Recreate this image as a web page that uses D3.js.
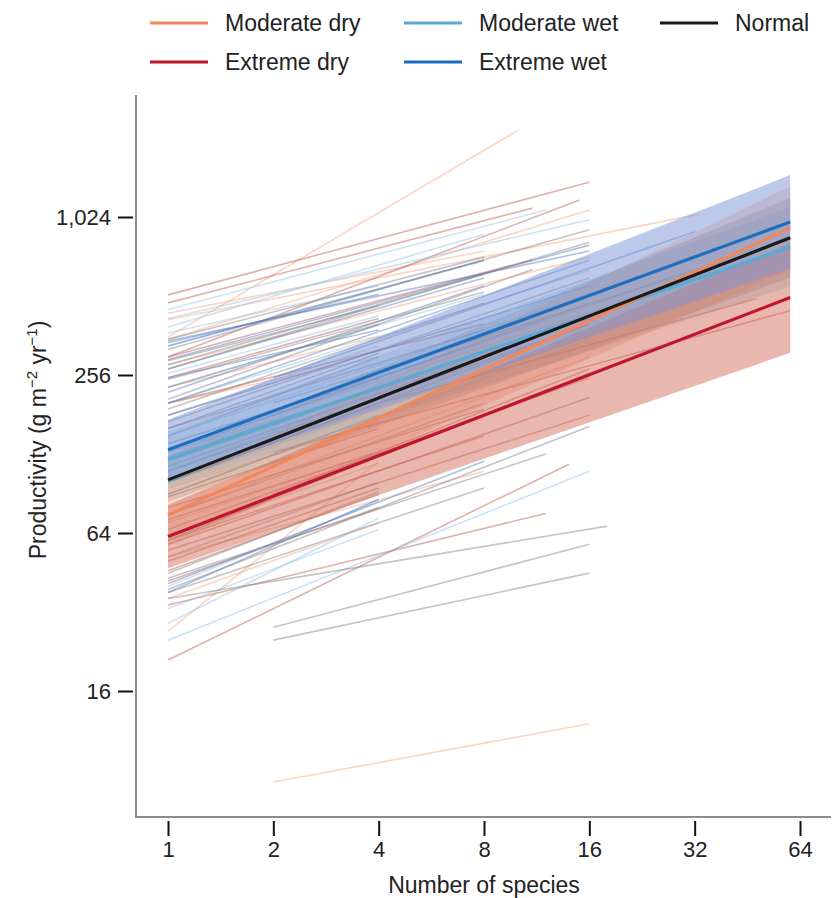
<!DOCTYPE html>
<style>
    body { margin: 0; background: #fff; }
    svg text { font-family: "Liberation Sans", Arial, sans-serif; fill: #222; }
</style>
<svg width="834" height="898"></svg>
<script src="https://d3js.org/d3.v7.min.js"></script>
<script>
    // tick labels
    var xTicks = [1, 2, 4, 8, 16, 32, 64];
    var yTicks = [16, 64, 256, 1024];

    // categories, in legend order
    var categories = ["Moderate dry", "Extreme dry", "Moderate wet", "Extreme wet", "Normal"];

    // fitted lines: species at start / end, productivity at start / end
    var fitSpecies = [1, 60];
    var fitStart = [75, 62, 122, 133, 102];
    var fitEnd   = [930, 505, 787, 980, 853];

    // confidence bands (low / high at start and end)
    var bandLowStart  = [57, 47, 96, 102, 84];
    var bandHighStart = [98, 82, 156, 173, 127];
    var bandLowEnd    = [646, 311, 555, 650, 601];
    var bandHighEnd   = [1337, 816, 1116, 1479, 1210];

    // individual experiments: [species start, productivity start, species end, productivity end]
    var moderateDryLines = [
        [1, 357, 10, 2190], [1, 416, 33, 1050], [1, 350, 16, 1088], [2, 7.2, 16, 12],
        [1, 27, 4, 120], [1, 36, 4, 70], [1, 70, 8, 180], [1, 95, 4, 170],
        [1, 120, 16, 420], [1, 62, 4, 118], [1, 180, 8, 420], [1, 230, 4, 360],
        [1, 75, 16, 300], [1, 52, 8, 110], [1, 280, 16, 720], [1, 130, 8, 300],
        [1, 100, 16, 360], [1, 200, 4, 300], [2, 180, 32, 600], [1, 440, 8, 760]
    ];
    var extremeDryLines = [
        [1, 517, 16, 1390], [1, 482, 11, 1107], [1, 300, 15, 1189], [1, 21, 14, 117],
        [1, 34, 12, 76], [1, 300, 11, 704], [1, 200, 8, 400], [1, 88, 4, 160],
        [1, 72, 4, 130], [1, 60, 8, 150], [1, 55, 16, 180], [1, 50, 4, 95],
        [1, 66, 16, 250], [1, 80, 8, 190], [1, 46, 4, 90], [1, 110, 16, 400],
        [1, 140, 4, 250], [1, 160, 8, 380], [2, 90, 16, 270], [1, 250, 4, 420],
        [1, 58, 16, 210], [1, 42, 4, 80], [4, 200, 48, 500], [2, 130, 60, 450]
    ];
    var moderateWetLines = [
        [1, 455, 12, 1088], [1, 390, 8, 880], [1, 25, 16, 110], [1, 29, 4, 73],
        [1, 33, 4, 66], [1, 40, 4, 85], [1, 370, 4, 560], [1, 330, 8, 700],
        [1, 200, 16, 640], [1, 180, 4, 330], [1, 140, 8, 340], [1, 110, 4, 220],
        [1, 90, 16, 350], [1, 260, 4, 430], [1, 230, 8, 520], [1, 150, 16, 520],
        [1, 60, 4, 130], [1, 420, 16, 1000], [4, 250, 48, 780]
    ];
    var extremeWetLines = [
        [1, 293, 16, 800], [1, 330, 8, 700], [1, 340, 4, 520], [1, 345, 16, 760],
        [1, 220, 8, 560], [1, 160, 4, 310], [1, 130, 16, 480], [1, 180, 16, 560],
        [1, 100, 4, 200], [1, 38, 4, 86], [1, 41, 8, 120], [1, 250, 4, 380],
        [1, 270, 8, 600], [1, 200, 16, 700], [2, 250, 32, 900]
    ];
    var normalLines = [
        [2, 28, 16, 58], [2, 25, 16, 45], [1, 36, 18, 68], [1, 39, 16, 163],
        [1, 43, 12, 128], [1, 320, 16, 916], [1, 246, 8, 530], [1, 207, 11, 646],
        [1, 290, 4, 470], [1, 280, 8, 620], [1, 270, 16, 820], [1, 230, 4, 400],
        [1, 190, 8, 480], [1, 170, 16, 600], [1, 150, 4, 300], [1, 115, 8, 300],
        [1, 100, 16, 400], [1, 90, 4, 180], [1, 75, 8, 200], [1, 60, 16, 260],
        [1, 52, 4, 100], [1, 45, 4, 92], [1, 125, 4, 230], [1, 350, 8, 720],
        [1, 38, 8, 95], [2, 200, 40, 700]
    ];

    var mainColors = ["#f4875a", "#c0152f", "#5aaad6", "#1d6fbe", "#1a1a1a"];
    var bgColors   = ["#f3a47f", "#b5524a", "#8fc3e3", "#4f73bd", "#7f7f7f"];
    var bandColors = ["#f08a60", "#d46f5c", "#6aaed6", "#7b93d6", "#777777"];
    var bandOpacity = [0.3, 0.5, 0.3, 0.5, 0.3];

    var svg = d3.select("svg");

    var x = d3.scaleLog().base(2).domain([1, 64]).range([168, 800]);
    var y = d3.scaleLog().base(2).domain([16, 1024]).range([691, 217]);

    var bgSets = [moderateDryLines, extremeDryLines, moderateWetLines, extremeWetLines, normalLines];

    // background lines
    var bg = svg.append("g");
    bgSets.forEach(function(set, i) {
        bg.selectAll(null)
            .data(set)
            .enter().append("line")
            .attr("x1", function(d) { return x(d[0]); })
            .attr("y1", function(d) { return y(d[1]); })
            .attr("x2", function(d) { return x(d[2]); })
            .attr("y2", function(d) { return y(d[3]); })
            .attr("stroke", bgColors[i])
            .attr("stroke-opacity", 0.45)
            .attr("stroke-width", 1.6);
    });

    // confidence bands
    var bandDraw = [4, 2, 0, 1, 3];
    bandDraw.forEach(function(i) {
        var pts = [
            [x(fitSpecies[0]), y(bandHighStart[i])],
            [x(fitSpecies[1]), y(bandHighEnd[i])],
            [x(fitSpecies[1]), y(bandLowEnd[i])],
            [x(fitSpecies[0]), y(bandLowStart[i])]
        ];
        svg.append("path")
            .attr("d", d3.line()(pts) + "Z")
            .attr("fill", bandColors[i])
            .attr("fill-opacity", bandOpacity[i]);
    });

    // fitted lines
    var lineDraw = [1, 2, 0, 4, 3];
    lineDraw.forEach(function(i) {
        svg.append("line")
            .attr("x1", x(fitSpecies[0])).attr("y1", y(fitStart[i]))
            .attr("x2", x(fitSpecies[1])).attr("y2", y(fitEnd[i]))
            .attr("stroke", mainColors[i])
            .attr("stroke-width", 3.2);
    });

    // axes lines
    svg.append("line").attr("x1", 136).attr("x2", 136).attr("y1", 95).attr("y2", 818)
        .attr("stroke", "#8c8c8c").attr("stroke-width", 2);
    svg.append("line").attr("x1", 135).attr("x2", 831).attr("y1", 817).attr("y2", 817)
        .attr("stroke", "#8c8c8c").attr("stroke-width", 2);

    var gx = svg.append("g")
        .attr("transform", "translate(0,821)")
        .call(d3.axisBottom(x).tickValues(xTicks).tickFormat(d3.format("d")).tickSize(15).tickPadding(5));
    var gy = svg.append("g")
        .attr("transform", "translate(133,0)")
        .call(d3.axisLeft(y).tickValues(yTicks).tickFormat(d3.format(",")).tickSize(15).tickPadding(7));
    [gx, gy].forEach(function(g) {
        g.select(".domain").remove();
        g.selectAll(".tick line").attr("stroke", "#111").attr("stroke-width", 2);
        g.selectAll(".tick text").attr("font-size", 22).attr("fill", "#222")
            .attr("font-family", "Liberation Sans, Arial, sans-serif");
    });

    // axis titles
    svg.append("text")
        .attr("x", 484).attr("y", 893)
        .attr("text-anchor", "middle")
        .attr("font-size", 23)
        .text("Number of species");

    var yt = svg.append("text")
        .attr("transform", "translate(46,440) rotate(-90)")
        .attr("text-anchor", "middle")
        .attr("font-size", 23);
    yt.append("tspan").text("Productivity (g m");
    yt.append("tspan").attr("dy", -9).attr("font-size", 15).text("\u22122");
    yt.append("tspan").attr("dy", 9).text(" yr");
    yt.append("tspan").attr("dy", -9).attr("font-size", 15).text("\u22121");
    yt.append("tspan").attr("dy", 9).text(")");

    // legend
    var legendPos = [[150, 23], [150, 62], [404, 23], [404, 62], [660, 23]];
    var legend = svg.append("g")
        .selectAll("g")
        .data(categories)
        .enter().append("g")
        .attr("transform", function(d, i) { return "translate(" + legendPos[i][0] + "," + legendPos[i][1] + ")"; });
    legend.append("line")
        .attr("x1", 0).attr("x2", 58)
        .attr("stroke", function(d, i) { return mainColors[i]; })
        .attr("stroke-width", 3.2);
    legend.append("text")
        .attr("x", 75).attr("dy", "0.35em")
        .attr("font-size", 23)
        .text(function(d) { return d; });
</script>
